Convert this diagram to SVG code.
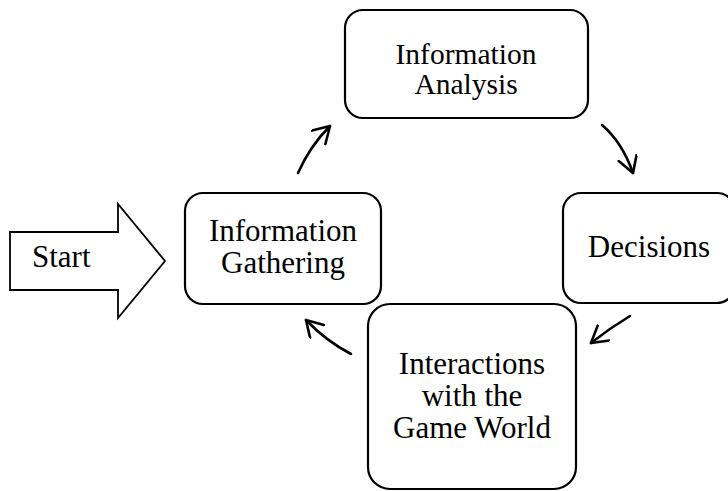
<svg xmlns="http://www.w3.org/2000/svg" width="728" height="491" viewBox="0 0 728 491">
<style>
.box{fill:#fff;stroke:#000;stroke-width:2.2}
.t{font-family:"Liberation Serif","Times New Roman",serif;font-size:31px;fill:#000;text-anchor:middle}
.s{font-size:29.5px}
.c{fill:none;stroke:#000;stroke-width:2.6;stroke-linecap:round}
</style>
<defs>
<marker id="ah" markerUnits="userSpaceOnUse" markerWidth="24" markerHeight="24" refX="17" refY="10" orient="auto">
<path d="M1,0.5 L17,10 L1,19.5" fill="none" stroke="#000" stroke-width="2.6" stroke-linecap="round" stroke-linejoin="round"/>
</marker>
</defs>
<rect width="728" height="491" fill="#fff"/>
<g id="start">
<path d="M10,232 H118 V204 L165,261 L118,318 V290 H10 Z" fill="#fff" stroke="#000" stroke-width="1.8" stroke-linejoin="miter"/>
<text x="32" y="267" class="t" style="text-anchor:start">Start</text>
</g>
<g id="gathering">
<rect class="box" x="185" y="193" width="196" height="111" rx="18"/>
<text class="t" x="283" y="241">Information</text>
<text class="t" x="283" y="273">Gathering</text>
</g>
<g id="analysis">
<rect class="box" x="345" y="10" width="243" height="108" rx="18"/>
<text class="t s" x="466" y="64">Information</text>
<text class="t s" x="466" y="94">Analysis</text>
</g>
<g id="decisions">
<rect class="box" x="563" y="193" width="172" height="110" rx="18"/>
<text class="t" x="649" y="257">Decisions</text>
</g>
<g id="interactions">
<rect class="box" x="368" y="304" width="208" height="185" rx="22"/>
<text class="t" x="472" y="374">Interactions</text>
<text class="t" x="472" y="406">with the</text>
<text class="t" x="472" y="438">Game World</text>
</g>
<g id="connectors">
<path class="c" d="M298,173 Q310,146 330,126" marker-end="url(#ah)"/>
<path class="c" d="M602,125 Q622,142 633,173" marker-end="url(#ah)"/>
<path class="c" d="M630,316 Q610,328 591,343" marker-end="url(#ah)"/>
<path class="c" d="M351,354 Q326,341 306,320" marker-end="url(#ah)"/>
</g>
</svg>
